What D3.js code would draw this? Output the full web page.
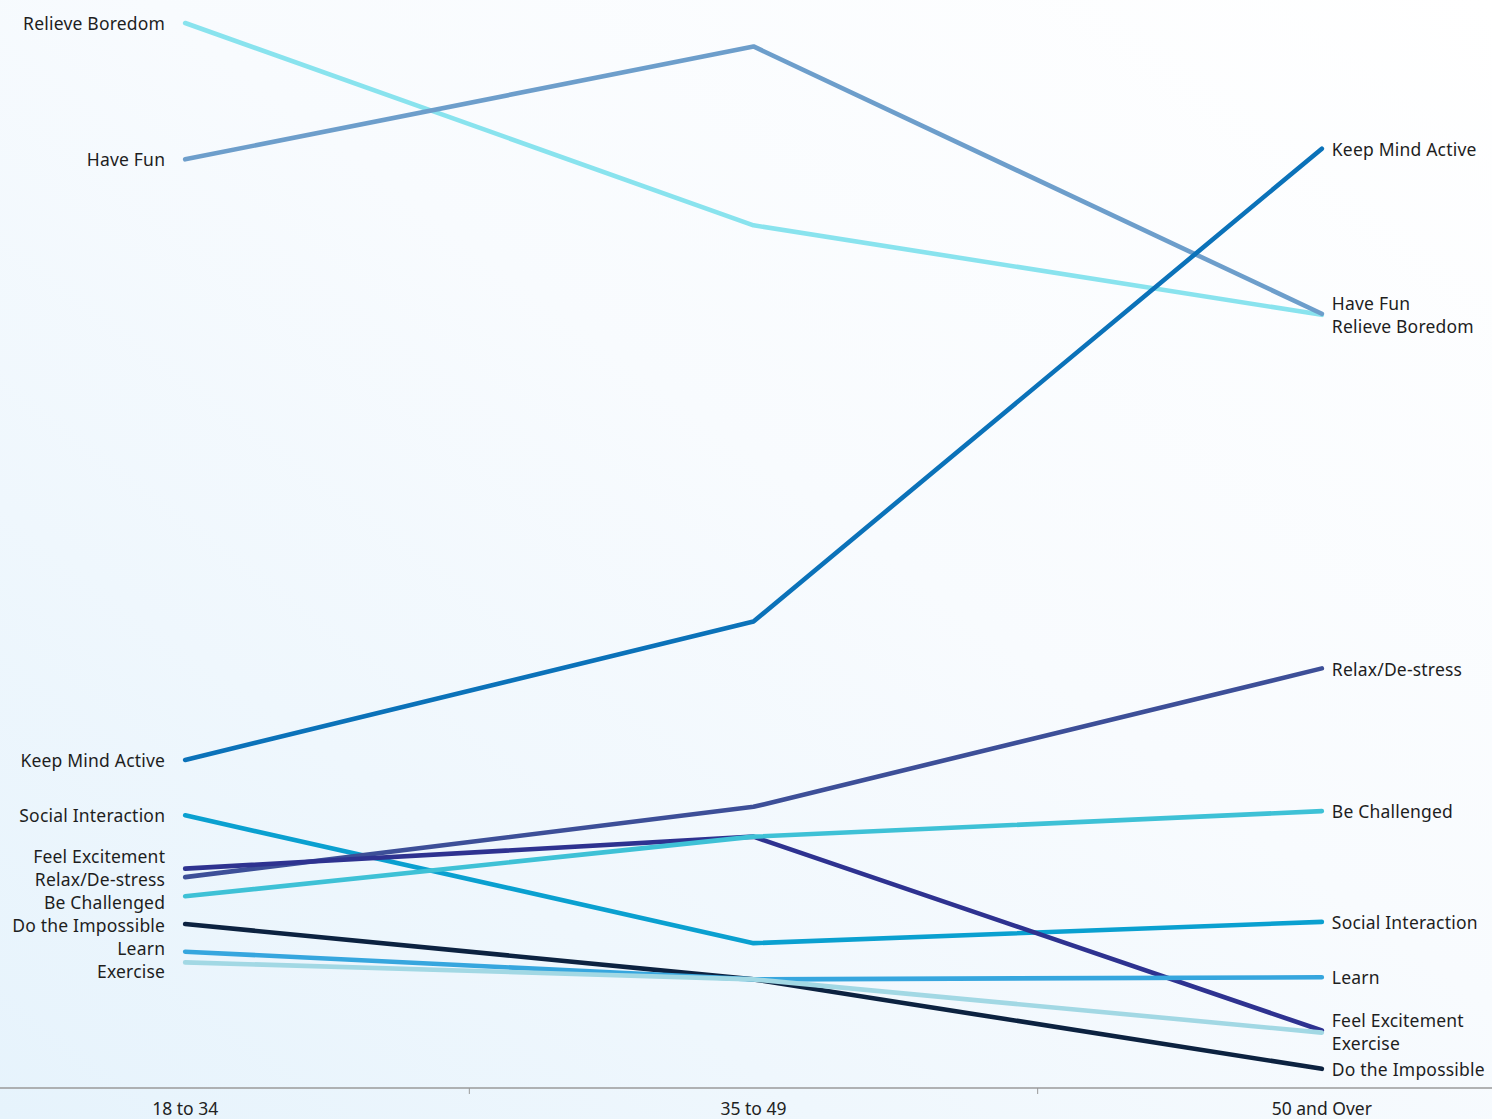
<!DOCTYPE html>
<html>
<head>
<meta charset="utf-8">
<script src="https://cdn.jsdelivr.net/npm/d3@7"></script>
<style>
  html, body { margin: 0; padding: 0; }
  body { width: 1492px; height: 1119px; overflow: hidden; }
  text { font-family: "Noto Sans", sans-serif; }
</style>
</head>
<body>
<svg id="chart" width="1492" height="1119"></svg>
<script>
// ---- Data ----
const categories = ["18 to 34", "35 to 49", "50 and Over"];
const seriesNames = [
  "Relieve Boredom", "Have Fun", "Keep Mind Active", "Social Interaction",
  "Relax/De-stress", "Feel Excitement", "Do the Impossible", "Learn",
  "Be Challenged", "Exercise"
];
const relieveBoredom   = [50.0, 40.5, 36.3];
const haveFun          = [43.6, 48.9, 36.35];
const keepMindActive   = [15.4, 21.9, 44.1];
const socialInteraction= [12.8, 6.8, 7.8];
const relaxDeStress    = [9.9, 13.2, 19.7];
const feelExcitement   = [10.3, 11.8, 2.7];
const doTheImpossible  = [7.7, 5.1, 0.9];
const learn            = [6.4, 5.1, 5.2];
const beChallenged     = [9.0, 11.8, 13.0];
const exercise         = [5.9, 5.1, 2.6];
const seriesColors = [
  "#89e3ee", "#6d9ecb", "#0b72b9", "#0aa0d0",
  "#3d4f98", "#2e3290", "#0c2240", "#36a6de",
  "#3ec1d6", "#a2d8e4"
];
const seriesValues = [relieveBoredom, haveFun, keepMindActive, socialInteraction,
  relaxDeStress, feelExcitement, doTheImpossible, learn, beChallenged, exercise];

// ---- Layout ----
const W = 1492, H = 1119;
const axisY = 1088;
const svg = d3.select("#chart");

const defs = svg.append("defs");
const grad = defs.append("linearGradient").attr("id", "bg")
  .attr("x1", "100%").attr("y1", "0%").attr("x2", "0%").attr("y2", "100%");
grad.append("stop").attr("offset", "0%").attr("stop-color", "#ffffff");
grad.append("stop").attr("offset", "45%").attr("stop-color", "#f8fbfe");
grad.append("stop").attr("offset", "100%").attr("stop-color", "#e6f3fc");
svg.append("rect").attr("width", W).attr("height", H).attr("fill", "url(#bg)");

const x = d3.scaleBand().domain(categories).range([-99, 1606]).padding(0);
const cx = c => x(c) + x.bandwidth() / 2;
const y = d3.scaleLinear().domain([0, 50]).range([axisY, 23]);

// axis
const axisG = svg.append("g");
axisG.append("line").attr("x1", 0).attr("x2", W).attr("y1", axisY).attr("y2", axisY)
  .attr("stroke", "#9a9a9a").attr("stroke-width", 1.3);
categories.slice(0, -1).forEach(c => {
  const bx = x(c) + x.bandwidth();
  axisG.append("line").attr("x1", bx).attr("x2", bx).attr("y1", axisY).attr("y2", axisY + 6)
    .attr("stroke", "#9a9a9a").attr("stroke-width", 1);
});
categories.forEach(c => {
  axisG.append("text").attr("x", cx(c)).attr("y", axisY + 27)
    .attr("text-anchor", "middle").attr("font-size", 17.5).attr("fill", "#222")
    .text(c);
});

// lines
const line = d3.line().x((d, i) => cx(categories[i])).y(d => y(d));
seriesNames.forEach((name, si) => {
  svg.append("path").datum(seriesValues[si]).attr("d", line)
    .attr("fill", "none").attr("stroke", seriesColors[si])
    .attr("stroke-width", 4.6).attr("stroke-linecap", "round").attr("stroke-linejoin", "round");
});

// label de-overlap
function spread(items, gap) {
  items.sort((a, b) => a.y0 - b.y0);
  items.forEach(d => d.y = d.y0);
  for (let it = 0; it < 300; it++) {
    for (let i = 1; i < items.length; i++) {
      const a = items[i - 1], b = items[i];
      const ov = gap - (b.y - a.y);
      if (ov > 0) { a.y -= ov / 2; b.y += ov / 2; }
    }
  }
  return items;
}
function labels(idx, anchor, dx) {
  const items = seriesNames.map((n, si) => ({ name: n, y0: y(seriesValues[si][idx]) }));
  spread(items, 23);
  items.forEach(d => {
    svg.append("text").attr("x", cx(categories[idx]) + dx).attr("y", d.y + 1)
      .attr("dy", "0.35em").attr("text-anchor", anchor)
      .attr("font-size", 17.5).attr("letter-spacing", 0.2)
      .attr("fill", "#1e1e1e").text(d.name);
  });
}
labels(0, "end", -20);
labels(2, "start", 10);
</script>
</body>
</html>
